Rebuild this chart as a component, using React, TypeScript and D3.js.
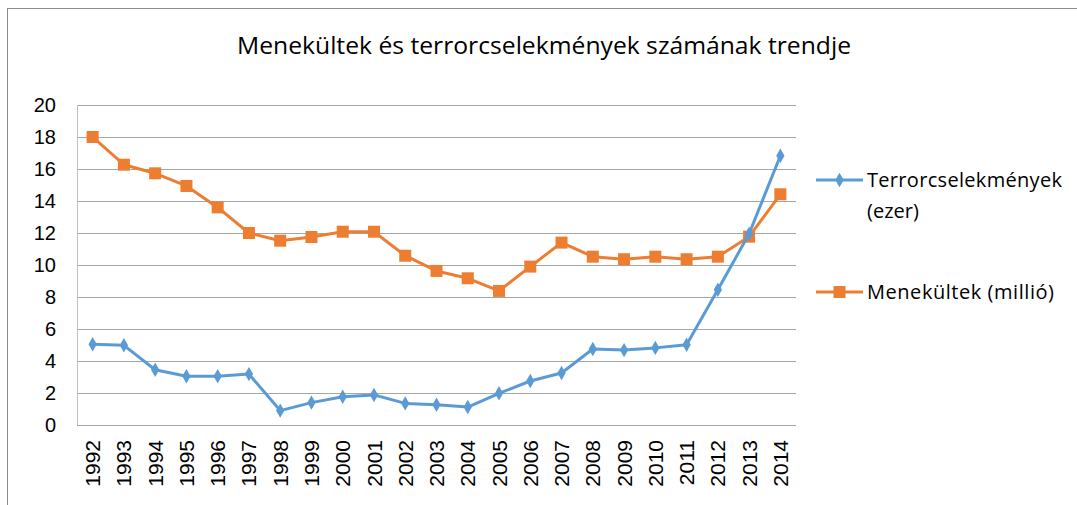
import React from "react";
import * as d3 from "d3";

const years = [
  "1992", "1993", "1994", "1995", "1996", "1997", "1998", "1999", "2000", "2001", "2002", "2003",
  "2004", "2005", "2006", "2007", "2008", "2009", "2010", "2011", "2012", "2013", "2014",
];
// Terrorcselekmények (ezer)
const terror = [
  5.05, 4.98, 3.45, 3.05, 3.05, 3.18, 0.9, 1.4, 1.77, 1.88, 1.35, 1.27,
  1.12, 1.98, 2.75, 3.25, 4.75, 4.68, 4.82, 5.02, 8.45, 11.95, 16.83,
];
// Menekültek (millió)
const refugees = [
  18.0, 16.27, 15.73, 14.94, 13.6, 12.0, 11.52, 11.75, 12.08, 12.08, 10.58, 9.63,
  9.17, 8.38, 9.9, 11.4, 10.52, 10.36, 10.52, 10.36, 10.52, 11.77, 14.42,
];
const yTicks = [0, 2, 4, 6, 8, 10, 12, 14, 16, 18, 20];

const W = 1077;
const H = 505;
const margin = { left: 77, right: 281, top: 105, bottom: 80 };
const BLUE = "#5b9bd5";
const ORANGE = "#ed7d31";
const FONT = "'Liberation Sans', Arial, sans-serif";
const FONT2 = "'Open Sans', sans-serif";

export default function App() {
  const x = d3.scaleBand().domain(years).range([margin.left, W - margin.right]);
  const y = d3.scaleLinear().domain([0, 20]).range([H - margin.bottom, margin.top]);
  const cx = (d: string) => (x(d) as number) + x.bandwidth() / 2;

  const line = d3
    .line<number>()
    .x((_, i) => cx(years[i]))
    .y((v) => y(v));

  const diamond = d3.symbol(d3.symbolDiamond, 60)()!;

  return (
    <svg
      width={W}
      height={H}
      style={{ position: "absolute", left: 0, top: 0, background: "#fff" }}
    >
      <rect x={7.5} y={8.5} width={W + 20} height={H + 20} fill="none" stroke="#8c8c8c" />
      <text
        x={544}
        y={54}
        textAnchor="middle"
        fontFamily={FONT2}
        fontSize={23}
        textLength={614}
        lengthAdjust="spacingAndGlyphs"
        fill="#000"
      >
        Menekültek és terrorcselekmények számának trendje
      </text>

      {yTicks.map((t) => (
        <g key={t}>
          <line
            x1={margin.left}
            x2={W - margin.right}
            y1={y(t) + 0.5}
            y2={y(t) + 0.5}
            stroke="#a6a6a6"
            strokeWidth={1}
          />
          <text x={56} y={y(t)} dy="0.36em" textAnchor="end" fontFamily={FONT} fontSize={20} fill="#000">
            {t}
          </text>
        </g>
      ))}
      <line
        x1={margin.left + 0.5}
        x2={margin.left + 0.5}
        y1={margin.top}
        y2={H - margin.bottom}
        stroke="#bfbfbf"
      />

      {years.map((yr) => (
        <text
          key={yr}
          transform={`translate(${cx(yr)},${H - margin.bottom + 15}) rotate(-90)`}
          dy="0.36em"
          textAnchor="end"
          fontFamily={FONT}
          fontSize={21}
          fill="#000"
        >
          {yr}
        </text>
      ))}

      <path d={line(refugees)!} fill="none" stroke={ORANGE} strokeWidth={3} strokeLinejoin="round" />
      {refugees.map((v, i) => (
        <rect key={i} x={cx(years[i]) - 6} y={y(v) - 6} width={12} height={12} fill={ORANGE} />
      ))}

      <path d={line(terror)!} fill="none" stroke={BLUE} strokeWidth={3} strokeLinejoin="round" />
      {terror.map((v, i) => (
        <path key={i} d={diamond} transform={`translate(${cx(years[i])},${y(v)})`} fill={BLUE} />
      ))}

      <g>
        <line x1={816} x2={863} y1={180} y2={180} stroke={BLUE} strokeWidth={3} />
        <path d={diamond} transform="translate(839.5,180)" fill={BLUE} />
        <text x={867} y={180} dy="0.36em" fontFamily={FONT2} fontSize={20} textLength={195} fill="#000">
          Terrorcselekmények
        </text>
        <text x={867} y={211} dy="0.36em" fontFamily={FONT2} fontSize={20} fill="#000">
          (ezer)
        </text>
        <line x1={816} x2={863} y1={292} y2={292} stroke={ORANGE} strokeWidth={3} />
        <rect x={833.5} y={286} width={12} height={12} fill={ORANGE} />
        <text x={867} y={292} dy="0.36em" fontFamily={FONT2} fontSize={20} textLength={187} fill="#000">
          Menekültek (millió)
        </text>
      </g>
    </svg>
  );
}
